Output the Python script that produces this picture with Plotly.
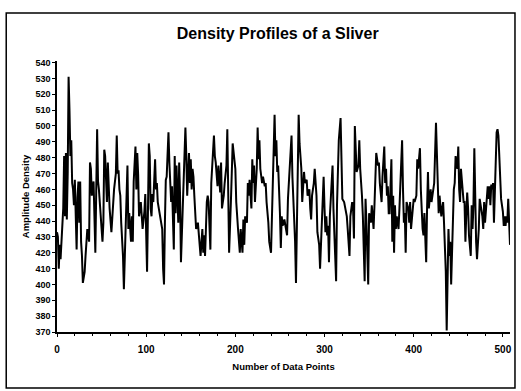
import plotly.graph_objects as go

# Readings of the density trace (x = data point number, y = amplitude density)
point_number = (
    [0, 1, 2, 3, 4, 5, 6, 7, 8, 9, 10, 11]
    + [12, 13, 14, 15, 16, 17, 18, 19, 20, 21, 22, 23]
    + [24, 25, 26, 27, 28, 29, 31, 32, 33, 34, 36, 37]
    + [38, 39, 41, 43, 45, 46, 47, 48, 49, 51, 52, 53]
    + [54, 56, 57, 58, 59, 61, 62, 64, 66, 67, 68, 69]
    + [70, 71, 72, 74, 75, 76, 77, 79, 80, 81, 83, 84]
    + [85, 86, 88, 89, 90, 91, 92, 94, 96, 98, 99, 100]
    + [101, 102, 103, 104, 105, 106, 107, 108, 110, 111, 112, 113]
    + [114, 116, 118, 119, 120, 121, 122, 123, 124, 125, 126, 128]
    + [129, 130, 131, 132, 133, 134, 136, 137, 138, 139, 141, 142]
    + [144, 145, 146, 148, 149, 150, 151, 152, 153, 154, 156, 158]
    + [160, 161, 163, 164, 165, 166, 168, 169, 170, 172, 173, 175]
    + [176, 177, 178, 180, 181, 183, 184, 185, 187, 188, 190, 191]
    + [192, 193, 195, 197, 200, 201, 203, 204, 205, 206, 208, 209]
    + [210, 211, 213, 214, 215, 216, 218, 219, 220, 221, 222, 224]
    + [225, 226, 227, 228, 230, 231, 233, 234, 235, 237, 238, 240]
    + [241, 243, 244, 245, 246, 247, 248, 250, 251, 252, 253, 255]
    + [256, 258, 259, 260, 262, 263, 264, 265, 267, 268, 269, 270]
    + [271, 272, 274, 275, 277, 278, 280, 281, 283, 284, 285, 286]
    + [288, 289, 291, 292, 294, 295, 296, 298, 299, 300, 301, 302]
    + [303, 304, 305, 306, 307, 308, 309, 310, 311, 313, 314, 315]
    + [316, 318, 319, 320, 322, 323, 325, 326, 328, 329, 331, 332]
    + [333, 334, 336, 337, 338, 339, 340, 342, 343, 345, 346, 347]
    + [348, 349, 350, 352, 353, 355, 356, 357, 358, 360, 361, 362]
    + [364, 365, 367, 368, 369, 370, 371, 372, 373, 375, 376, 377]
    + [378, 379, 380, 381, 383, 384, 386, 387, 388, 389, 390, 391]
    + [392, 394, 395, 396, 397, 398, 400, 401, 403, 404, 405, 407]
    + [408, 410, 411, 412, 413, 414, 415, 416, 417, 419, 420, 421]
    + [422, 423, 425, 426, 427, 428, 429, 431, 432, 433, 434, 435]
    + [436, 437, 438, 439, 440, 441, 442, 443, 444, 445, 446, 447]
    + [449, 450, 451, 452, 453, 455, 456, 457, 458, 459, 460, 461]
    + [462, 464, 465, 466, 467, 468, 469, 470, 471, 473, 474, 475]
    + [476, 477, 478, 479, 480, 482, 483, 484, 485, 486, 487, 488]
    + [489, 490, 492, 493, 494, 495, 496, 497, 498, 500, 501, 502]
    + [503, 504, 505, 506, 508]
)

amplitude = (
    [433, 430, 410, 425, 416, 430, 445, 448, 481, 443, 483, 441]
    + [470, 531, 510, 481, 491, 464, 460, 450, 466, 445, 422, 455]
    + [465, 439, 465, 427, 418, 401, 408, 418, 429, 435, 427, 477]
    + [473, 456, 465, 420, 498, 465, 460, 450, 443, 427, 439, 485]
    + [481, 452, 477, 452, 448, 433, 445, 460, 470, 494, 470, 472]
    + [460, 456, 439, 418, 397, 418, 435, 475, 435, 445, 427, 443]
    + [427, 465, 487, 460, 483, 469, 443, 452, 435, 446, 457, 430]
    + [408, 446, 489, 481, 448, 443, 457, 452, 479, 460, 464, 452]
    + [448, 443, 435, 410, 400, 439, 466, 468, 483, 496, 477, 452]
    + [462, 439, 422, 481, 445, 475, 439, 477, 456, 414, 450, 466]
    + [499, 481, 456, 483, 464, 479, 460, 473, 468, 456, 435, 439]
    + [427, 418, 435, 420, 431, 418, 452, 456, 452, 422, 464, 485]
    + [494, 481, 477, 462, 475, 458, 477, 448, 456, 464, 475, 498]
    + [460, 420, 452, 489, 473, 452, 435, 427, 420, 435, 420, 441]
    + [425, 443, 439, 464, 456, 466, 448, 479, 464, 475, 452, 473]
    + [499, 479, 491, 473, 464, 468, 462, 464, 452, 439, 427, 420]
    + [443, 471, 507, 481, 491, 471, 475, 445, 423, 443, 437, 441]
    + [437, 431, 454, 464, 481, 494, 468, 456, 427, 401, 448, 475]
    + [507, 489, 473, 452, 471, 464, 466, 456, 460, 448, 441, 456]
    + [464, 473, 456, 433, 425, 410, 427, 448, 468, 448, 433, 443]
    + [431, 437, 414, 443, 456, 464, 475, 448, 427, 402, 450, 471]
    + [491, 505, 481, 454, 452, 448, 443, 435, 418, 443, 452, 448]
    + [429, 500, 471, 473, 475, 491, 473, 456, 443, 402, 454, 439]
    + [410, 400, 445, 439, 450, 435, 450, 471, 483, 475, 477, 464]
    + [452, 468, 487, 464, 473, 456, 462, 445, 445, 479, 427, 456]
    + [420, 450, 435, 443, 435, 448, 471, 491, 460, 439, 445, 420]
    + [452, 448, 439, 452, 435, 443, 454, 452, 456, 479, 473, 486]
    + [460, 435, 431, 445, 427, 414, 448, 471, 448, 460, 452, 456]
    + [460, 464, 502, 477, 464, 445, 456, 443, 448, 452, 439, 427]
    + [408, 371, 418, 435, 418, 427, 400, 422, 435, 460, 464, 481]
    + [473, 487, 460, 452, 473, 456, 452, 452, 427, 445, 458, 448]
    + [431, 418, 450, 435, 450, 486, 450, 427, 416, 435, 454, 450]
    + [448, 443, 435, 452, 439, 452, 462, 454, 462, 450, 463, 460]
    + [464, 439, 471, 496, 498, 494, 481, 464, 454, 446, 437, 443]
    + [437, 443, 439, 454, 425]
)

y_tick_values = list(range(370, 541, 10))
x_tick_values = [0, 100, 200, 300, 400, 500]

assert len(point_number) == len(amplitude)

fig = go.Figure()
fig.add_trace(go.Scatter(
    x=point_number, y=amplitude, mode="lines",
    line=dict(color="black", width=2),
    showlegend=False, hoverinfo="skip",
))

FONT = "Liberation Sans, Arial, sans-serif"

fig.update_layout(
    width=521, height=391,
    margin=dict(l=57, r=9, t=61, b=59),
    paper_bgcolor="white", plot_bgcolor="white",
    title=dict(
        text="<b>Density Profiles of a Sliver</b>",
        x=0.533, xanchor="center", y=0.915, yanchor="middle",
        font=dict(family=FONT, size=16, color="black"),
    ),
    xaxis=dict(
        range=[0, 508], tickvals=x_tick_values,
        showgrid=False, zeroline=False,
        showline=True, linecolor="black", linewidth=1.5,
        ticks="outside", ticklen=3, tickcolor="black",
        ticklabelstandoff=4,
        minor=dict(dtick=20, ticks="outside", ticklen=2, tickcolor="black"),
        tickfont=dict(family=FONT, size=10, color="black", weight="bold"),
        title=dict(text="<b>Number of Data Points</b>", standoff=10,
                   font=dict(family=FONT, size=9.5, color="black")),
    ),
    yaxis=dict(
        range=[370, 541], tickvals=y_tick_values,
        showgrid=False, zeroline=False,
        showline=True, linecolor="black", linewidth=1.5,
        ticks="outside", ticklen=3, tickcolor="black",
        tickfont=dict(family=FONT, size=9, color="black", weight="bold"),
        title=dict(text="<b>Amplitude Density</b>", standoff=4,
                   font=dict(family=FONT, size=9.5, color="black")),
    ),
    shapes=[dict(
        type="rect", xref="paper", yref="paper",
        x0=(6 - 57) / 455, x1=(517 - 57) / 455,
        y0=(332 - 388) / 271, y1=(332 - 13) / 271,
        line=dict(color="black", width=1.5), fillcolor="rgba(0,0,0,0)",
        layer="below",
    )],
)

fig.write_html(
    "out.html",
    config={"displayModeBar": False},
    post_script="document.body.style.margin='0';document.body.style.overflow='hidden';",
)
